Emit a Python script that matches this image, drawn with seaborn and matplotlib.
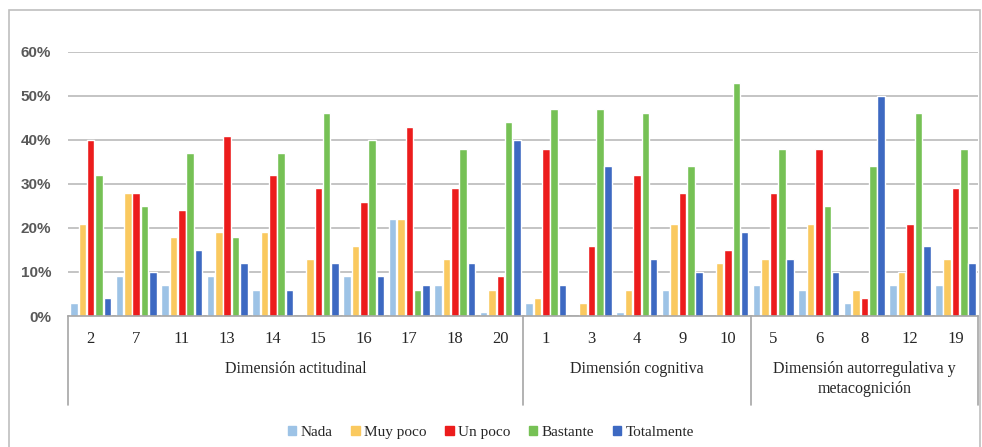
import matplotlib
matplotlib.use('Agg')
import matplotlib.pyplot as plt
import matplotlib.patches as mpatches
import seaborn as sns
import pandas as pd

# Data (percent)
items = ['2', '7', '11', '13', '14', '15', '16', '17', '18', '20',
         '1', '3', '4', '9', '10',
         '5', '6', '8', '12', '19']
groups = ['Dimensión actitudinal', 'Dimensión cognitiva',
          'Dimensión autorregulativa y\nmetacognición']
group_sizes = [10, 5, 5]
levels = ['Nada', 'Muy poco', 'Un poco', 'Bastante', 'Totalmente']

nada = [3, 9, 7, 9, 6, 0, 9, 22, 7, 1,
        3, 0, 1, 6, 0,
        7, 6, 3, 7, 7]
muy_poco = [21, 28, 18, 19, 19, 13, 16, 22, 13, 6,
            4, 3, 6, 21, 12,
            13, 21, 6, 10, 13]
un_poco = [40, 28, 24, 41, 32, 29, 26, 43, 29, 9,
           38, 16, 32, 28, 15,
           28, 38, 4, 21, 29]
bastante = [32, 25, 37, 18, 37, 46, 40, 6, 38, 44,
            47, 47, 46, 34, 53,
            38, 25, 34, 46, 38]
totalmente = [4, 10, 15, 12, 6, 12, 9, 7, 12, 40,
              7, 34, 13, 10, 19,
              13, 10, 50, 16, 12]

colors = ['#9DC3E6', '#FAC95F', '#EC1C1C', '#76C155', '#3D69C2']

rows = []
for lvl, vals in zip(levels, [nada, muy_poco, un_poco, bastante, totalmente]):
    for it, v in zip(items, vals):
        rows.append({'item': it, 'nivel': lvl, 'valor': v / 100})
df = pd.DataFrame(rows)

sns.set_style('white')
plt.rcParams['font.family'] = ['Liberation Serif', 'DejaVu Serif']

fig = plt.figure(figsize=(9.82, 4.47), dpi=100)
ax = fig.add_axes([0.0692, 0.293, 0.927, 0.591])

sns.barplot(data=df, x='item', y='valor', hue='nivel', order=items,
            hue_order=levels, palette=colors, width=0.92, gap=0.1,
            legend=False, ax=ax, saturation=1)

ax.set_ylim(0, 0.6)
ax.set_xlim(-0.5, len(items) - 0.5)
ax.set_yticks([0, 0.1, 0.2, 0.3, 0.4, 0.5, 0.6])
ax.set_yticklabels(['0%', '10%', '20%', '30%', '40%', '50%', '60%'],
                   family='Liberation Sans', fontsize=11, color='#595959',
                   weight='bold')
ax.yaxis.grid(True, color='#BFBFBF', linewidth=1.3)
ax.set_axisbelow(True)
for s in ['top', 'right', 'left']:
    ax.spines[s].set_visible(False)
ax.spines['bottom'].set_color('#A6A6A6')
ax.spines['bottom'].set_linewidth(1.2)
ax.tick_params(axis='y', length=0, pad=12)
ax.tick_params(axis='x', length=0, pad=11, labelsize=12, colors='#262626')
ax.set_xlabel('')
ax.set_ylabel('')

# multi-level category axis
bounds = [-0.5]
for n in group_sizes:
    bounds.append(bounds[-1] + n)
trans = ax.get_xaxis_transform()
for b in bounds:
    ax.plot([b, b], [0, -0.335], transform=trans, color='#A6A6A6',
            linewidth=1.2, clip_on=False)
for g, lo, hi in zip(groups, bounds[:-1], bounds[1:]):
    ax.text((lo + hi) / 2, -0.17, g, transform=trans, ha='center', va='top',
            fontsize=11.5, color='#262626', linespacing=1.35)

# legend
handles = [mpatches.Patch(color=c, label=l) for c, l in zip(colors, levels)]
fig.legend(handles=handles, loc='center', bbox_to_anchor=(0.5, 0.033), ncol=5,
           frameon=False, fontsize=11, handlelength=0.55, handleheight=0.55,
           handletextpad=0.3, columnspacing=1.2)

# chart outer border
fig.patches.append(mpatches.Rectangle((0.009, -0.01), 0.989, 0.988,
                                      transform=fig.transFigure, fill=False,
                                      edgecolor='#BFBFBF', linewidth=1.2))

fig.savefig('out.png', dpi=100)
